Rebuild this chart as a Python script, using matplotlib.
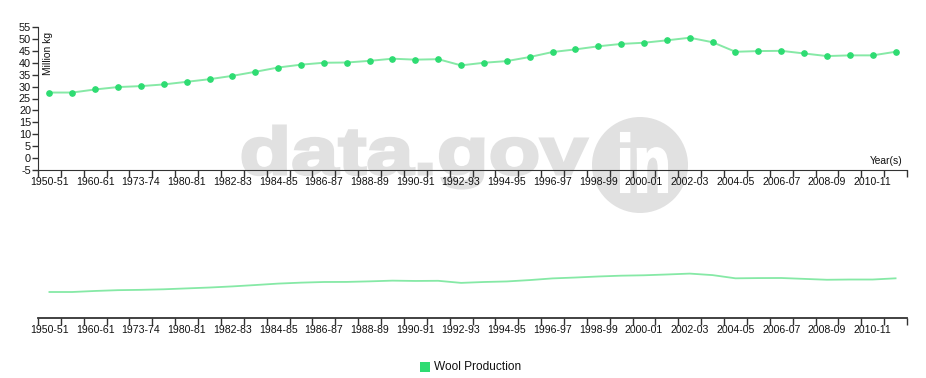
import matplotlib
matplotlib.use("Agg")
import matplotlib.pyplot as plt
from matplotlib.textpath import TextPath
from matplotlib.font_manager import FontProperties
from matplotlib.patches import PathPatch, Circle, Rectangle
from matplotlib.transforms import Affine2D, IdentityTransform

years = ["1950-51", "1955-56", "1960-61", "1968-69", "1973-74", "1977-78",
         "1980-81", "1981-82", "1982-83", "1983-84", "1984-85", "1985-86",
         "1986-87", "1987-88", "1988-89", "1989-90", "1990-91", "1991-92",
         "1992-93", "1993-94", "1994-95", "1995-96", "1996-97", "1997-98",
         "1998-99", "1999-00", "2000-01", "2001-02", "2002-03", "2003-04",
         "2004-05", "2005-06", "2006-07", "2007-08", "2008-09", "2009-10",
         "2010-11", "2011-12"]
wool = [27.5, 27.5, 28.8, 29.8, 30.2, 30.9, 32.0, 33.1, 34.5, 36.2, 38.0, 39.2,
        40.0, 40.1, 40.8, 41.7, 41.3, 41.5, 38.9, 40.0, 40.7, 42.4, 44.5, 45.6,
        46.9, 47.9, 48.4, 49.4, 50.5, 48.6, 44.6, 44.9, 45.0, 43.9, 42.8, 43.1,
        43.1, 44.6]
yticks = list(range(-5, 56, 5))
series_name = "Wool Production"

W, H, DPI = 926, 378, 100
plt.rcParams['font.family'] = ['Liberation Sans', 'DejaVu Sans']
plt.rcParams['axes.unicode_minus'] = False
fig = plt.figure(figsize=(W / DPI, H / DPI), dpi=DPI)
fig.patch.set_facecolor('white')

PT = '#2edc72'
LN = '#86e9a6'
AX = '#333333'
WM = '#e1e1e1'

def px(y):
    return H - y

def fit_text(s, x0, x1, ytop, ybase, color, z, ref=None, lw=0):
    fp = FontProperties(family='Liberation Sans', weight='bold')
    tp = TextPath((0, 0), s, size=1, prop=fp)
    ext = tp.get_extents()
    top = TextPath((0, 0), ref, size=1, prop=fp).get_extents().ymax if ref else ext.ymax
    sx = (x1 - x0) / (ext.xmax - ext.xmin)
    sy = (ybase - ytop) / top
    tr = Affine2D().translate(-ext.xmin, 0).scale(sx, sy).translate(x0, px(ybase))
    fig.patches.append(PathPatch(tr.transform_path(tp), facecolor=color,
                                 edgecolor=color if lw else 'none', linewidth=lw,
                                 transform=IdentityTransform(), zorder=z))

# watermark
fit_text("data.gov", 243, 587, 126, 174, WM, -5, ref="d", lw=2.2)
fig.patches.append(Circle((640, px(165)), 48, facecolor=WM, edgecolor='none',
                          transform=IdentityTransform(), zorder=-5))
fit_text("in", 621, 667, 133, 192, 'white', -4, lw=1.5)

x = list(range(len(years)))
left, right = 38 / W, 907 / W

def setup_xaxis(ax):
    ax.set_xlim(-0.5, len(years) - 0.5)
    ax.set_xticks([i - 0.5 for i in range(len(years) + 1)])
    ax.set_xticklabels([])
    ax.set_xticks(x[::2], minor=True)
    ax.set_xticklabels(years[::2], minor=True)
    ax.tick_params(axis='x', which='major', length=5, width=1, color=AX, direction='out')
    ax.tick_params(axis='x', which='minor', length=0, pad=4.8, labelsize=7.6, labelcolor='#111111')
    for s in ['top', 'right']:
        ax.spines[s].set_visible(False)
    ax.spines['bottom'].set_color(AX)
    ax.patch.set_alpha(0)

# main chart
ax = fig.add_axes([left, 1 - 170 / H, right - left, (170 - 27) / H])
ax.plot(x, wool, color=LN, lw=1.4, zorder=2)
ax.plot(x, wool, 'o', color=PT, ms=3.8, zorder=3)
ax.set_ylim(-5, 55)
ax.set_yticks(yticks)
ax.tick_params(axis='y', length=4, width=1, color=AX, pad=1, labelsize=7.8, labelcolor='#111111')
ax.spines['left'].set_color(AX)
setup_xaxis(ax)
ax.text(0.995, 0.03, "Year(s)", transform=ax.transAxes, ha='right', va='bottom',
        fontsize=7.4, color='#111111')
ax.text(0.0115, 0.965, "Million kg", transform=ax.transAxes, ha='center', va='top',
        rotation=90, fontsize=7.4, color='#111111')

# context chart
cx = fig.add_axes([left, 1 - 318 / H, right - left, (318 - 270) / H])
cx.plot(x, wool, color=LN, lw=1.3)
cx.set_ylim(-5, 55)
cx.set_yticks([])
cx.spines['left'].set_visible(False)
setup_xaxis(cx)
cx.spines['bottom'].set_linewidth(1.3)

# legend
fig.patches.append(Rectangle((420 / W, 1 - 372 / H), 10 / W, 10 / H, facecolor=PT,
                             edgecolor='none', transform=fig.transFigure))
fig.text(434 / W, 1 - 367 / H, series_name, ha='left', va='center', fontsize=8.6,
         color='#111111')

fig.savefig("out.png", dpi=DPI)
